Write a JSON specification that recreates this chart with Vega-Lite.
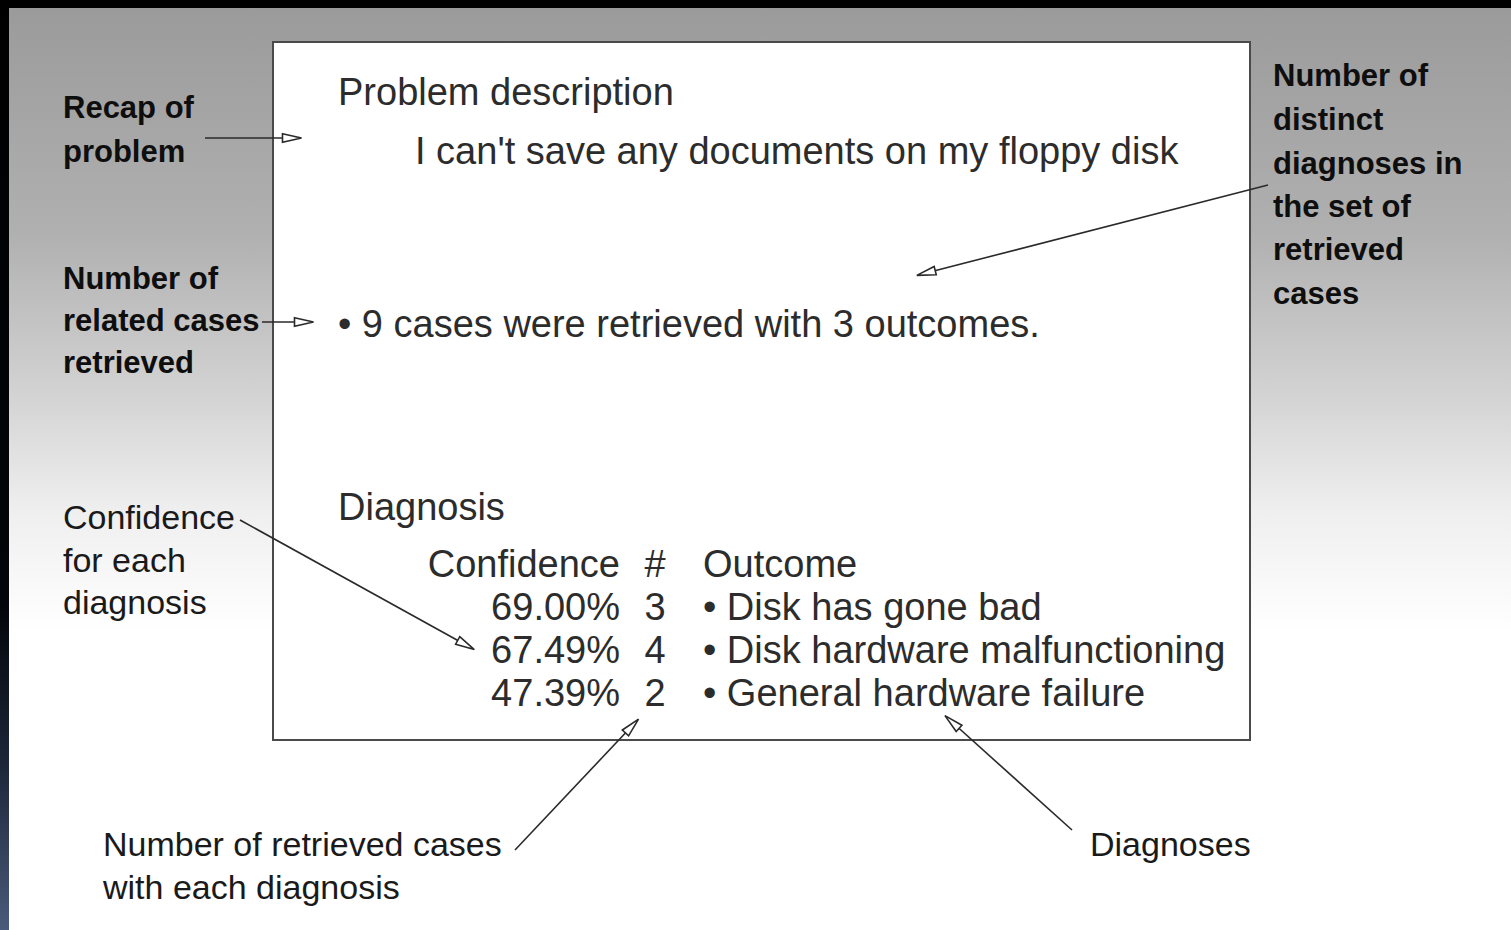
{
  "$schema": "https://vega.github.io/schema/vega-lite/v6.json",
  "width": 1511,
  "height": 930,
  "autosize": {"type": "fit", "contains": "padding"},
  "padding": 0,
  "background": "#ffffff",
  "config": {"view": {"stroke": null}},
  "datasets": {
    "canvas": [{"x": 0, "x2": 1511, "y": 0, "y2": 930}],
    "leftEdge": [{"x": 0, "x2": 9, "y": 0, "y2": 930}],
    "topEdge": [{"x": 0, "x2": 1511, "y": 0, "y2": 8}],
    "screen": [{"x": 273, "x2": 1250, "y": 42, "y2": 740}],
    "ui": [
      {"column": "left", "x": 338, "y": 105, "text": "Problem description"},
      {"column": "left", "x": 415, "y": 164, "text": "I can't save any documents on my floppy disk"},
      {"column": "left", "x": 338, "y": 337, "text": "• 9 cases were retrieved with 3 outcomes."},
      {"column": "left", "x": 338, "y": 520, "text": "Diagnosis"},
      {"column": "confidence", "x": 620, "y": 577, "text": "Confidence"},
      {"column": "count", "x": 655, "y": 577, "text": "#"},
      {"column": "left", "x": 703, "y": 577, "text": "Outcome"},
      {"column": "confidence", "x": 620, "y": 620, "text": "69.00%"},
      {"column": "count", "x": 655, "y": 620, "text": "3"},
      {"column": "left", "x": 703, "y": 620, "text": "• Disk has gone bad"},
      {"column": "confidence", "x": 620, "y": 663, "text": "67.49%"},
      {"column": "count", "x": 655, "y": 663, "text": "4"},
      {"column": "left", "x": 703, "y": 663, "text": "• Disk hardware malfunctioning"},
      {"column": "confidence", "x": 620, "y": 706, "text": "47.39%"},
      {"column": "count", "x": 655, "y": 706, "text": "2"},
      {"column": "left", "x": 703, "y": 706, "text": "• General hardware failure"}
    ],
    "notes": [
      {"group": "top", "x": 63, "y": 118, "text": "Recap of"},
      {"group": "top", "x": 63, "y": 162, "text": "problem"},
      {"group": "top", "x": 63, "y": 289, "text": "Number of"},
      {"group": "top", "x": 63, "y": 331, "text": "related cases"},
      {"group": "top", "x": 63, "y": 373, "text": "retrieved"},
      {"group": "top", "x": 1273, "y": 86, "text": "Number of"},
      {"group": "top", "x": 1273, "y": 130, "text": "distinct"},
      {"group": "top", "x": 1273, "y": 174, "text": "diagnoses in"},
      {"group": "top", "x": 1273, "y": 217, "text": "the set of"},
      {"group": "top", "x": 1273, "y": 260, "text": "retrieved"},
      {"group": "top", "x": 1273, "y": 304, "text": "cases"},
      {"group": "bottom", "x": 63, "y": 529, "text": "Confidence"},
      {"group": "bottom", "x": 63, "y": 572, "text": "for each"},
      {"group": "bottom", "x": 63, "y": 614, "text": "diagnosis"},
      {"group": "bottom", "x": 103, "y": 856, "text": "Number of retrieved cases"},
      {"group": "bottom", "x": 103, "y": 899, "text": "with each diagnosis"},
      {"group": "bottom", "x": 1090, "y": 856, "text": "Diagnoses"}
    ],
    "arrows": [
      {"label": "Recap of problem", "x": 205, "y": 138, "x2": 292, "y2": 138, "angle": 0},
      {"label": "Number of related cases retrieved", "x": 262, "y": 322, "x2": 304, "y2": 322, "angle": 0},
      {"label": "Number of distinct diagnoses", "x": 1268, "y": 185, "x2": 926, "y2": 273, "angle": 165.6},
      {"label": "Confidence for each diagnosis", "x": 240, "y": 520, "x2": 466, "y2": 645, "angle": 28.9},
      {"label": "Number of retrieved cases", "x": 515, "y": 850, "x2": 632, "y2": 726, "angle": 313.3},
      {"label": "Diagnoses", "x": 1072, "y": 830, "x2": 952, "y2": 722, "angle": 222}
    ]
  },
  "encoding": {
    "x": {"field": "x", "type": "quantitative", "axis": null, "scale": {"domain": [0, 1511], "nice": false, "zero": false}},
    "y": {"field": "y", "type": "quantitative", "axis": null, "scale": {"domain": [0, 930], "nice": false, "zero": false, "reverse": true}}
  },
  "layer": [
    {
      "data": {"name": "canvas"},
      "mark": {"type": "rect", "fill": {"gradient": "linear", "x1": 0, "y1": 0, "x2": 0, "y2": 1, "stops": [
        {"offset": 0, "color": "#9a9a9a"},
        {"offset": 0.25, "color": "#b0b0b0"},
        {"offset": 0.42, "color": "#d2d2d2"},
        {"offset": 0.55, "color": "#efefef"},
        {"offset": 0.68, "color": "#ffffff"},
        {"offset": 1, "color": "#ffffff"}
      ]}},
      "encoding": {"x2": {"field": "x2"}, "y2": {"field": "y2"}}
    },
    {
      "data": {"name": "leftEdge"},
      "mark": {"type": "rect", "fill": {"gradient": "linear", "x1": 0, "y1": 0, "x2": 0, "y2": 1, "stops": [
        {"offset": 0, "color": "#000000"},
        {"offset": 0.65, "color": "#03050a"},
        {"offset": 0.82, "color": "#1c2638"},
        {"offset": 1, "color": "#4a5a7a"}
      ]}},
      "encoding": {"x2": {"field": "x2"}, "y2": {"field": "y2"}}
    },
    {
      "data": {"name": "topEdge"},
      "mark": {"type": "rect", "fill": "#000000"},
      "encoding": {"x2": {"field": "x2"}, "y2": {"field": "y2"}}
    },
    {
      "data": {"name": "screen"},
      "mark": {"type": "rect", "fill": "#ffffff", "stroke": "#4a4a4a", "strokeWidth": 2},
      "encoding": {"x2": {"field": "x2"}, "y2": {"field": "y2"}}
    },
    {
      "data": {"name": "arrows"},
      "mark": {"type": "rule", "stroke": "#2a2a2a", "strokeWidth": 1.6},
      "encoding": {"x2": {"field": "x2"}, "y2": {"field": "y2"}}
    },
    {
      "data": {"name": "arrows"},
      "mark": {"type": "point", "shape": "M-1,-0.45L1,0L-1,0.45Z", "filled": true, "fill": "#ffffff", "stroke": "#2a2a2a", "strokeWidth": 1.6, "size": 361, "opacity": 1},
      "encoding": {
        "x": {"field": "x2", "type": "quantitative"},
        "y": {"field": "y2", "type": "quantitative"},
        "angle": {"field": "angle", "type": "quantitative", "scale": null}
      }
    },
    {
      "data": {"name": "ui"},
      "transform": [{"filter": "datum.column === 'left'"}],
      "mark": {"type": "text", "align": "left", "baseline": "alphabetic", "font": "Liberation Sans", "fontSize": 38, "fill": "#2c2c2c"},
      "encoding": {"text": {"field": "text"}}
    },
    {
      "data": {"name": "ui"},
      "transform": [{"filter": "datum.column === 'confidence'"}],
      "mark": {"type": "text", "align": "right", "baseline": "alphabetic", "font": "Liberation Sans", "fontSize": 38, "fill": "#2c2c2c"},
      "encoding": {"text": {"field": "text"}}
    },
    {
      "data": {"name": "ui"},
      "transform": [{"filter": "datum.column === 'count'"}],
      "mark": {"type": "text", "align": "center", "baseline": "alphabetic", "font": "Liberation Sans", "fontSize": 38, "fill": "#2c2c2c"},
      "encoding": {"text": {"field": "text"}}
    },
    {
      "data": {"name": "notes"},
      "transform": [{"filter": "datum.group === 'top'"}],
      "mark": {"type": "text", "align": "left", "baseline": "alphabetic", "font": "Liberation Sans", "fontWeight": "bold", "fontSize": 31, "fill": "#0e0e0e"},
      "encoding": {"text": {"field": "text"}}
    },
    {
      "data": {"name": "notes"},
      "transform": [{"filter": "datum.group === 'bottom'"}],
      "mark": {"type": "text", "align": "left", "baseline": "alphabetic", "font": "Liberation Sans", "fontSize": 34, "fill": "#1a1a1a"},
      "encoding": {"text": {"field": "text"}}
    }
  ]
}
